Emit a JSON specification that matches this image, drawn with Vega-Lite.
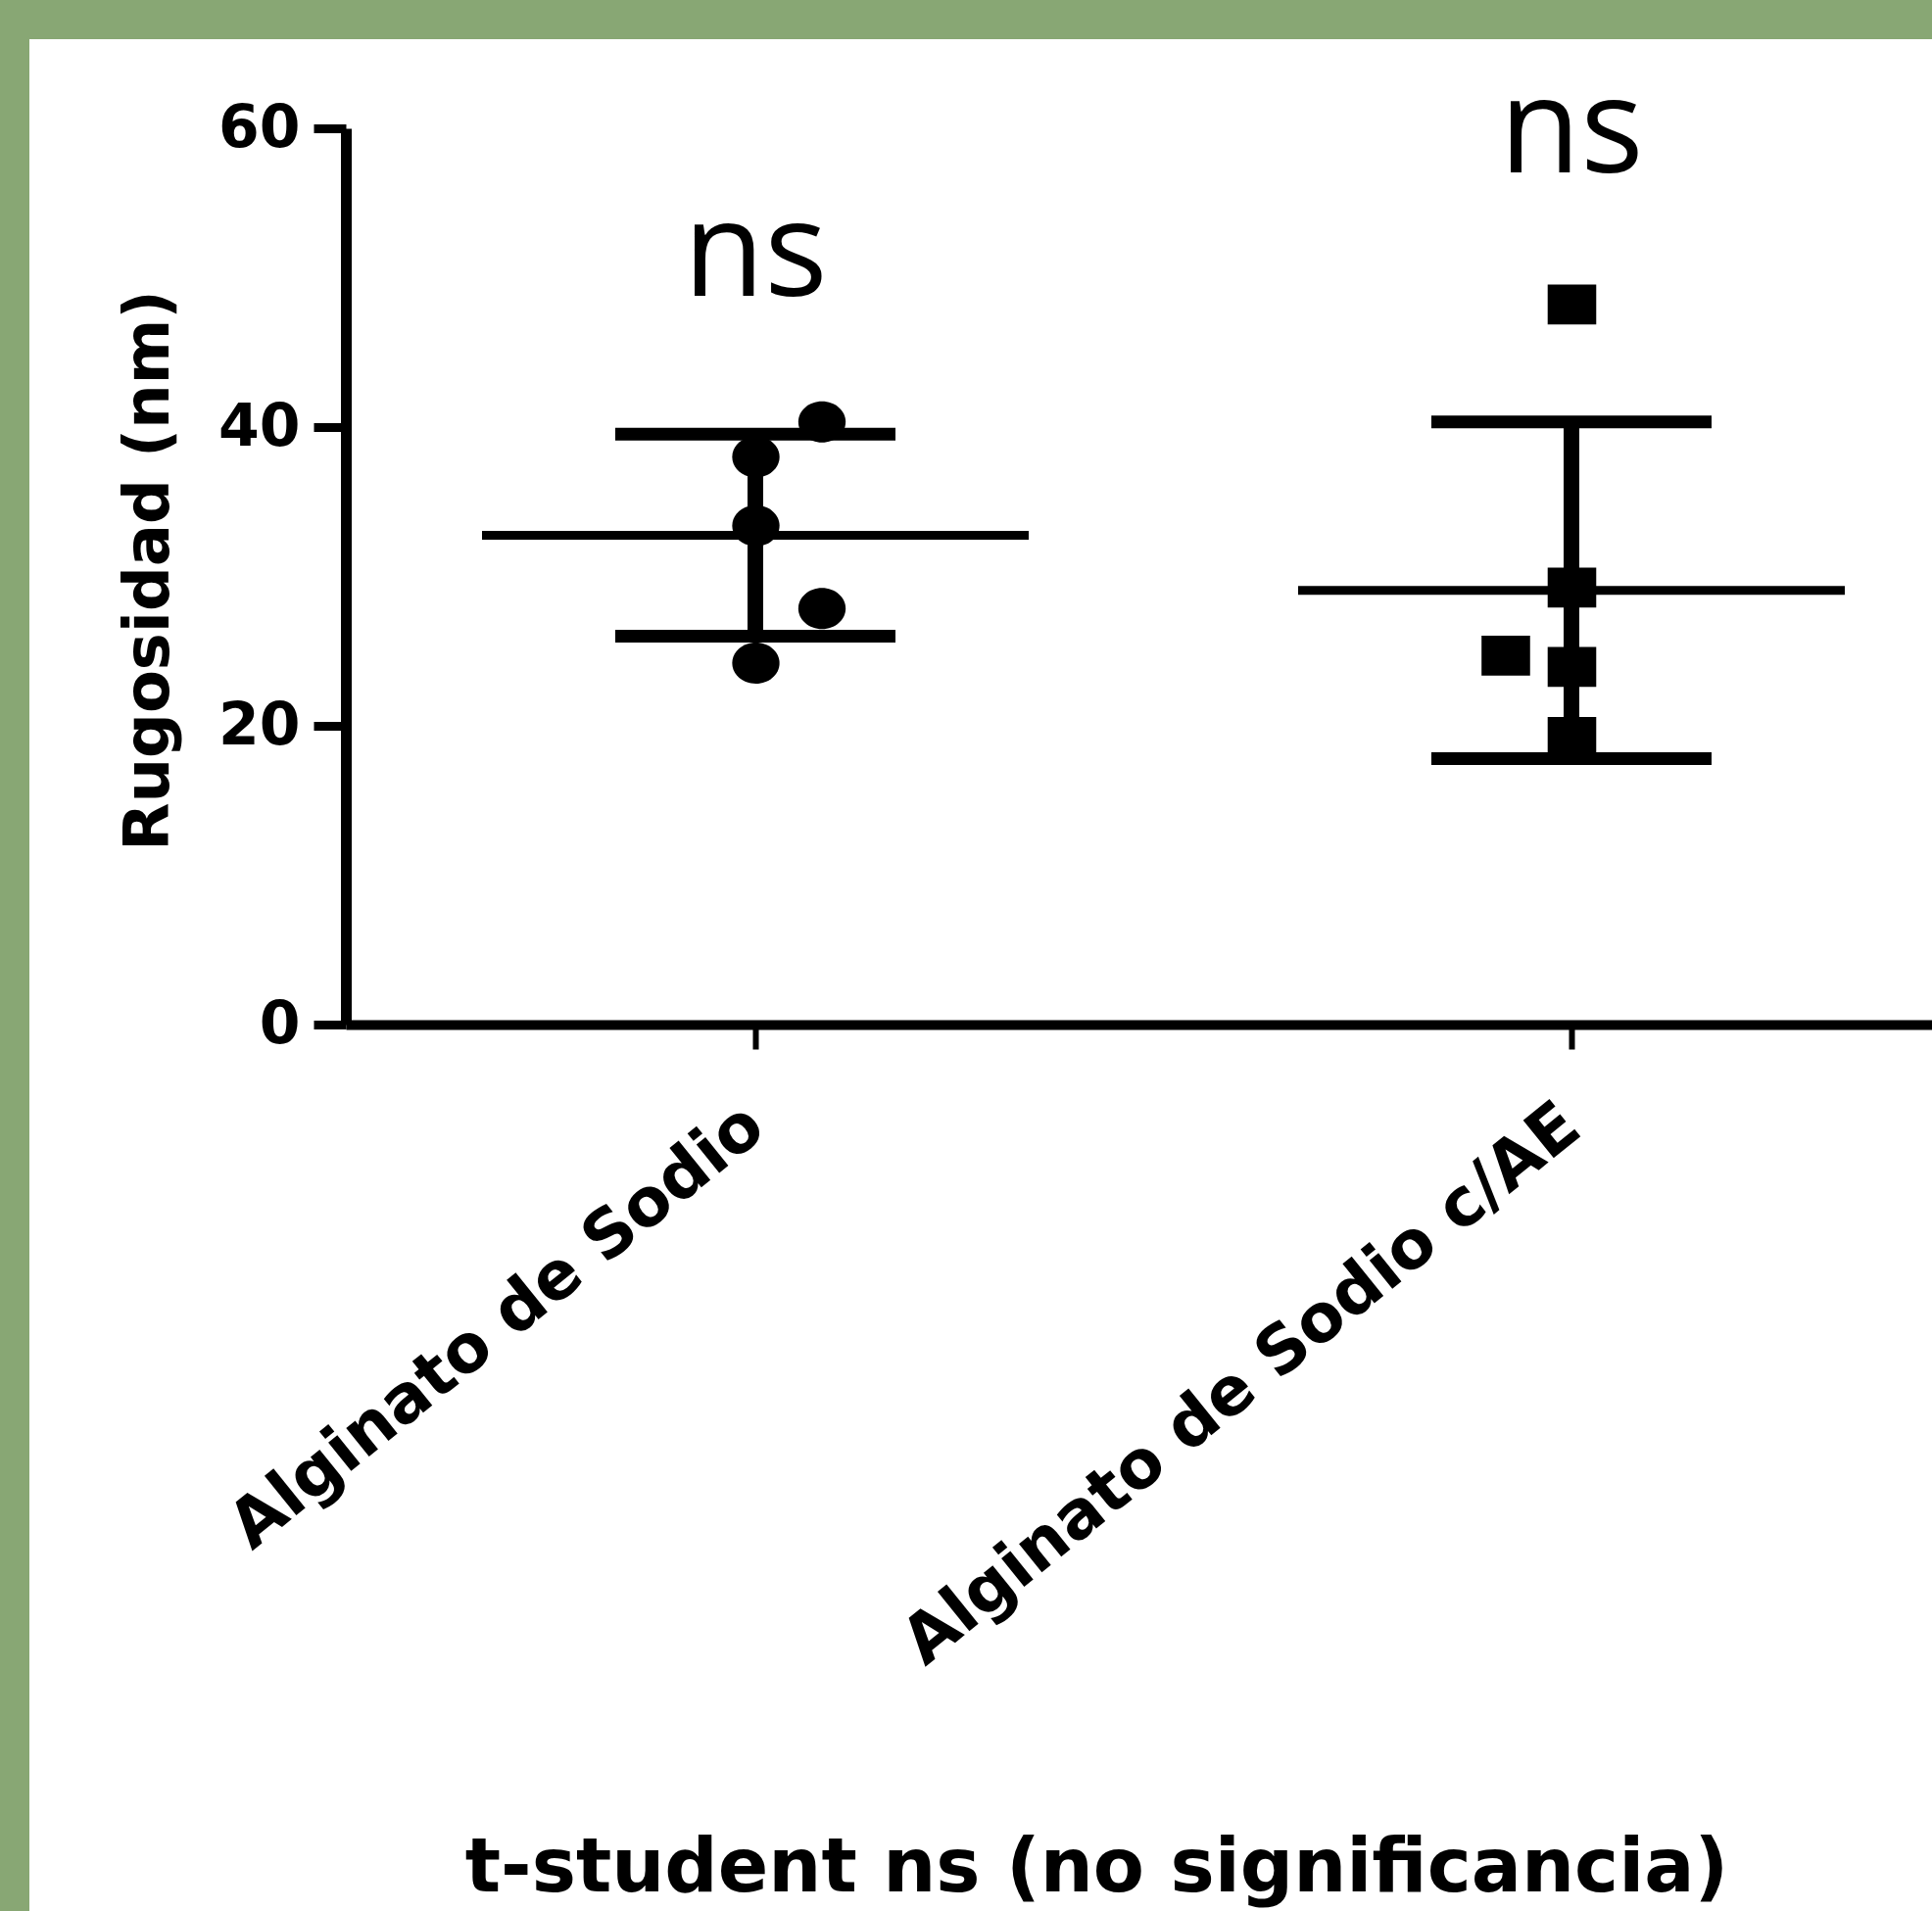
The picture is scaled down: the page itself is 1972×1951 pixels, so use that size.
{
  "$schema": "https://vega.github.io/schema/vega-lite/v6.json",
  "width": 1942,
  "height": 1911,
  "autosize": {"type": "none"},
  "padding": {"left": 30, "top": 40, "right": 0, "bottom": 0},
  "background": "#88a774",
  "config": {
    "view": {"fill": "white", "stroke": null},
    "axis": {"grid": false}
  },
  "datasets": {
    "puntos": [
      {"grupo": "Alginato de Sodio", "rugosidad": 40.35, "columna": 1},
      {"grupo": "Alginato de Sodio", "rugosidad": 38.0, "columna": 0},
      {"grupo": "Alginato de Sodio", "rugosidad": 33.4, "columna": 0},
      {"grupo": "Alginato de Sodio", "rugosidad": 27.85, "columna": 1},
      {"grupo": "Alginato de Sodio", "rugosidad": 24.2, "columna": 0},
      {"grupo": "Alginato de Sodio c/AE", "rugosidad": 48.2, "columna": 0},
      {"grupo": "Alginato de Sodio c/AE", "rugosidad": 29.25, "columna": 0},
      {"grupo": "Alginato de Sodio c/AE", "rugosidad": 24.7, "columna": -1},
      {"grupo": "Alginato de Sodio c/AE", "rugosidad": 23.95, "columna": 0},
      {"grupo": "Alginato de Sodio c/AE", "rugosidad": 19.25, "columna": 0}
    ],
    "anotaciones": [
      {"grupo": "Alginato de Sodio", "rugosidad": 48.8, "texto": "ns"},
      {"grupo": "Alginato de Sodio c/AE", "rugosidad": 57.05, "texto": "ns"}
    ]
  },
  "encoding": {
    "x": {
      "field": "grupo",
      "type": "nominal",
      "sort": ["Alginato de Sodio", "Alginato de Sodio c/AE"],
      "scale": {"type": "point", "range": [323, 1942], "padding": 0.4718, "align": 0.5318},
      "axis": {
        "title": "t-student ns (no significancia)",
        "titleFont": "DejaVu Sans",
        "titleFontWeight": "bold",
        "titleFontSize": 76,
        "titleColor": "black",
        "titleX": 1089,
        "titleY": 884,
        "titleAlign": "center",
        "titleBaseline": "alphabetic",
        "offset": -905,
        "domainColor": "black",
        "domainWidth": 10,
        "tickColor": "black",
        "tickWidth": 6,
        "tickSize": 25,
        "labelAngle": -39,
        "labelAlign": "right",
        "labelBaseline": "middle",
        "labelFont": "DejaVu Sans",
        "labelFontWeight": "bold",
        "labelFontSize": 68,
        "labelColor": "black",
        "labelPadding": 70,
        "labelLimit": 0,
        "labelOverlap": false,
        "labelBound": false
      }
    },
    "y": {
      "field": "rugosidad",
      "type": "quantitative",
      "scale": {"domain": [0, 60], "range": [1006, 91], "nice": false, "zero": true},
      "axis": {
        "title": "Rugosidad (nm)",
        "titleFont": "DejaVu Sans",
        "titleFontWeight": "bold",
        "titleFontSize": 64,
        "titleColor": "black",
        "titleX": -182,
        "titleY": 542,
        "titleAngle": -90,
        "titleAlign": "center",
        "titleBaseline": "alphabetic",
        "offset": -323,
        "values": [0, 20, 40, 60],
        "domainColor": "black",
        "domainWidth": 11,
        "tickColor": "black",
        "tickWidth": 9,
        "tickSize": 33,
        "labelFont": "DejaVu Sans",
        "labelFontWeight": "bold",
        "labelFontSize": 60,
        "labelColor": "black",
        "labelPadding": 14
      }
    }
  },
  "layer": [
    {
      "data": {"name": "puntos"},
      "mark": {"type": "tick", "orient": "horizontal", "size": 558, "thickness": 9, "color": "black", "opacity": 1},
      "encoding": {
        "y": {"aggregate": "mean", "field": "rugosidad", "type": "quantitative"}
      }
    },
    {
      "data": {"name": "puntos"},
      "mark": {
        "type": "errorbar",
        "extent": "stdev",
        "color": "black",
        "ticks": {"size": 286, "thickness": 13, "color": "black", "opacity": 1},
        "rule": {"strokeWidth": 16, "color": "black"}
      },
      "encoding": {
        "y": {"field": "rugosidad", "type": "quantitative"}
      }
    },
    {
      "data": {"name": "puntos"},
      "mark": {"type": "point", "filled": true, "color": "black", "opacity": 1, "size": 1764, "strokeWidth": 0},
      "encoding": {
        "xOffset": {"field": "columna", "type": "quantitative", "scale": {"domain": [-1, 1], "range": [-67, 68]}},
        "shape": {
          "field": "grupo",
          "type": "nominal",
          "scale": {
            "domain": ["Alginato de Sodio", "Alginato de Sodio c/AE"],
            "range": ["M-1.15,0A1.15,1,0,1,0,1.15,0A1.15,1,0,1,0,-1.15,0Z", "M-1.18,-0.97L1.18,-0.97L1.18,0.97L-1.18,0.97Z"]
          },
          "legend": null
        }
      }
    },
    {
      "data": {"name": "anotaciones"},
      "mark": {"type": "text", "font": "Open Sans", "fontSize": 135, "align": "center", "baseline": "alphabetic", "color": "black"},
      "encoding": {
        "text": {"field": "texto", "type": "nominal"}
      }
    }
  ]
}
